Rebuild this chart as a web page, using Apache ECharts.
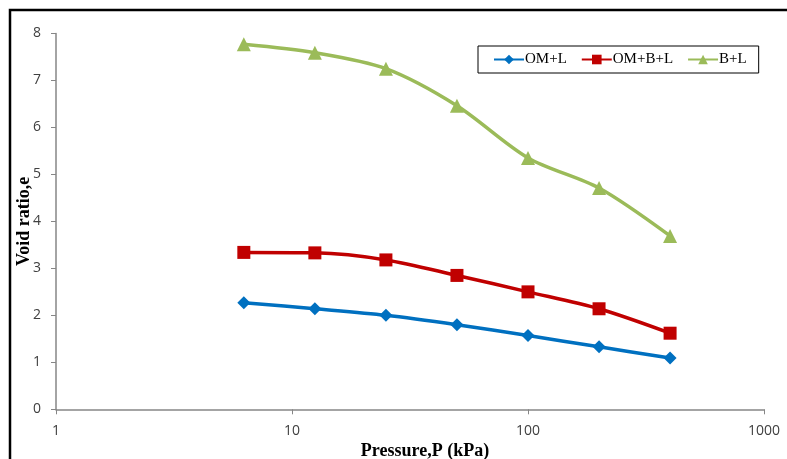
<!DOCTYPE html>
<html>
<head>
<meta charset="utf-8">
<script src="https://cdn.jsdelivr.net/npm/echarts@6/dist/echarts.min.js"></script>
<style>
  html, body { margin: 0; padding: 0; background: #fff; }
  #chart { width: 787px; height: 459px; }
</style>
</head>
<body>
<div id="chart"></div>
<script>
const pressures = [6.25, 12.5, 25, 50, 100, 200, 400];
const omL = [2.27, 2.14, 2.0, 1.8, 1.57, 1.33, 1.09];
const omBL = [3.34, 3.33, 3.18, 2.85, 2.5, 2.14, 1.62];
const bL = [7.77, 7.59, 7.25, 6.46, 5.35, 4.71, 3.69];
const seriesNames = ["OM+L", "OM+B+L", "B+L"];

const pairs = (ys) => pressures.map((p, i) => [p, ys[i]]);

const axisColor = "#868686";
const labelFont = { fontFamily: "Open Sans", fontSize: 14, color: "#404040" };
const titleFont = { fontFamily: "Liberation Serif", fontWeight: "bold", fontSize: 18, color: "#000" };

const chart = echarts.init(document.getElementById("chart"));

chart.setOption({
  animation: false,
  backgroundColor: "#fff",
  graphic: [
    {
      type: "rect",
      shape: { x: 10, y: 10, width: 800, height: 480 },
      style: { fill: "none", stroke: "#000", lineWidth: 2.5 },
      silent: true
    }
  ],
  grid: { left: 56, right: 23, top: 33.5, bottom: 49.7, outerBoundsMode: "none", containLabel: false },
  legend: {
    left: 478,
    top: 46,
    data: seriesNames,
    borderColor: "#000",
    borderWidth: 1,
    padding: [6, 12, 6, 15],
    itemGap: 14,
    itemWidth: 30,
    itemHeight: 12,
    textStyle: { fontFamily: "Liberation Serif", fontSize: 15, color: "#000", padding: [0, 0, 0, -4] }
  },
  xAxis: {
    type: "log",
    logBase: 10,
    min: 1,
    max: 1000,
    name: "Pressure,P (kPa)",
    nameLocation: "middle",
    nameGap: 33,
    nameMoveOverlap: false,
    nameTextStyle: Object.assign({ padding: [0, 0, 0, 30] }, titleFont),
    axisLine: { show: true, lineStyle: { color: axisColor, width: 1.5 } },
    axisTick: { show: true, length: 5, lineStyle: { color: axisColor } },
    minorTick: { show: false },
    splitLine: { show: false },
    axisLabel: Object.assign({ margin: 15, formatter: (v) => String(v) }, labelFont)
  },
  yAxis: {
    type: "value",
    min: 0,
    max: 8,
    interval: 1,
    name: "Void ratio,e",
    nameLocation: "middle",
    nameGap: 23,
    nameMoveOverlap: false,
    nameTextStyle: titleFont,
    axisLine: { show: true, lineStyle: { color: axisColor, width: 1.5 } },
    axisTick: { show: true, length: 5, lineStyle: { color: axisColor } },
    splitLine: { show: false },
    axisLabel: Object.assign({ margin: 15 }, labelFont)
  },
  series: [
    {
      name: seriesNames[0],
      type: "line",
      data: pairs(omL),
      smooth: 0.3,
      symbol: "diamond",
      symbolSize: 13,
      color: "#0070C0",
      lineStyle: { width: 3.5 }
    },
    {
      name: seriesNames[1],
      type: "line",
      data: pairs(omBL),
      smooth: 0.3,
      symbol: "rect",
      symbolSize: 13,
      color: "#C00000",
      lineStyle: { width: 3.5 }
    },
    {
      name: seriesNames[2],
      type: "line",
      data: pairs(bL),
      smooth: 0.3,
      symbol: "triangle",
      symbolSize: 14,
      color: "#9BBB59",
      lineStyle: { width: 3.5 }
    }
  ]
});
</script>
</body>
</html>
